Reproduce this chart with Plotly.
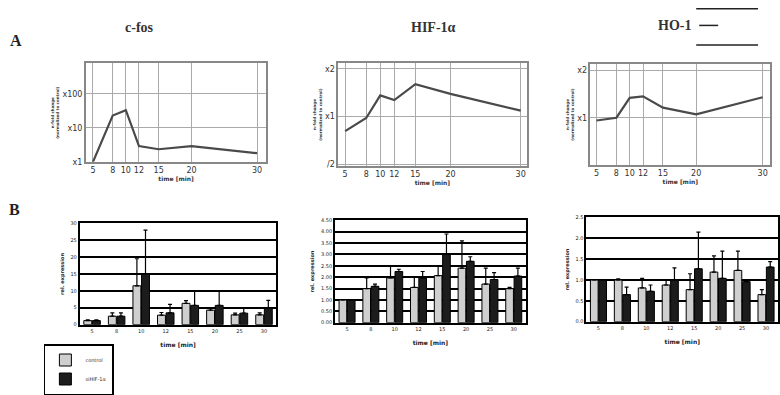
import plotly.graph_objects as go

W, H = 780, 395

# ---------------- data ----------------
line_time = [5, 8, 10, 12, 15, 20, 30]
cfos_fold = [1.0, 23, 33, 2.9, 2.35, 2.9, 1.8]
hif_fold = [0.81, 0.98, 1.36, 1.27, 1.6, 1.39, 1.09]
ho_fold = [0.96, 1.0, 1.34, 1.37, 1.16, 1.05, 1.35]

bar_cats = ["5", "8", "10", "12", "15", "20", "25", "30"]
series_names = ["control", "siHIF-1\u03b1"]

cfos_light = [1.2, 2.5, 11.5, 2.8, 6.3, 4.3, 2.9, 2.9]
cfos_light_err = [0.2, 1.0, 8.0, 0.8, 0.8, 0.5, 0.5, 0.6]
cfos_dark = [1.2, 2.5, 15.0, 3.5, 5.7, 5.7, 3.4, 4.9]
cfos_dark_err = [0.2, 1.0, 13.0, 2.5, 4.3, 4.3, 1.5, 2.3]

hif_light = [1.0, 1.5, 1.97, 1.55, 2.07, 2.4, 1.7, 1.5]
hif_light_err = [0.0, 0.47, 0.5, 0.45, 0.43, 1.2, 0.7, 0.05]
hif_dark = [1.0, 1.6, 2.25, 1.97, 3.0, 2.7, 1.9, 2.05]
hif_dark_err = [0.0, 0.1, 0.1, 0.28, 0.9, 0.2, 0.3, 0.35]

ho_light = [1.0, 1.0, 0.81, 0.88, 0.77, 1.19, 1.23, 0.65]
ho_light_err = [0.0, 0.03, 0.23, 0.12, 0.38, 0.39, 0.46, 0.12]
ho_dark = [1.0, 0.65, 0.73, 1.0, 1.27, 1.04, 0.96, 1.31]
ho_dark_err = [0.0, 0.18, 0.15, 0.29, 0.88, 0.65, 0.0, 0.13]

line_xticks = [5, 8, 10, 12, 15, 20, 30]
cfos_yticks = [1, 10, 100]
cfos_ytext = ["x1", "x10", "x100"]
hifho_yticks = [0.5, 1, 2]
hifho_ytext = ["/2", "x1", "x2"]

cfos_bar_ticks = [0, 5, 10, 15, 20, 25, 30]
hif_bar_ticks = [0, 0.5, 1, 1.5, 2, 2.5, 3, 3.5, 4, 4.5]
hif_bar_text = ["0.00", "0.50", "1.00", "1.50", "2.00", "2.50", "3.00", "3.50", "4.00", "4.50"]
ho_bar_ticks = [0, 0.5, 1, 1.5, 2, 2.5]
ho_bar_text = ["0.0", "0.5", "1.0", "1.5", "2.0", "2.5"]

# ---------------- helpers ----------------
def px(x):
    return x / W

def py(y):
    return 1 - y / H

fig = go.Figure()

LINE_COL = "#4a4a4a"
LIGHT = "#cfcfcf"
DARK = "#1c1c1c"

def add_line(axn, y):
    fig.add_trace(go.Scatter(x=line_time, y=y, mode="lines",
                             line=dict(color=LINE_COL, width=2.2),
                             xaxis="x" + axn, yaxis="y" + axn, showlegend=False))

add_line("", cfos_fold)
add_line("2", hif_fold)
add_line("3", ho_fold)

def add_bars(axn, light, lerr, dark, derr, legend):
    fig.add_trace(go.Bar(x=bar_cats, y=light, name=series_names[0],
                         marker=dict(color=LIGHT, line=dict(color="black", width=1)),
                         error_y=dict(type="data", array=lerr, arrayminus=[0]*len(lerr),
                                      symmetric=False, color="black", thickness=1.2, width=2),
                         xaxis="x" + axn, yaxis="y" + axn, showlegend=legend))
    fig.add_trace(go.Bar(x=bar_cats, y=dark, name=series_names[1],
                         marker=dict(color=DARK, line=dict(color="black", width=1)),
                         error_y=dict(type="data", array=derr, arrayminus=[0]*len(derr),
                                      symmetric=False, color="black", thickness=1.2, width=2),
                         xaxis="x" + axn, yaxis="y" + axn, showlegend=legend))

add_bars("4", cfos_light, cfos_light_err, cfos_dark, cfos_dark_err, True)
add_bars("5", hif_light, hif_light_err, hif_dark, hif_dark_err, False)
add_bars("6", ho_light, ho_light_err, ho_dark, ho_dark_err, False)

tickfont_top = dict(family="DejaVu Sans", size=8, color="#333333")
tinyfont = dict(family="DejaVu Sans", size=5, color="#222222")

def line_x(dom, rng, anchor):
    return dict(domain=dom, range=rng, tickvals=line_xticks, showgrid=True,
                gridcolor="#aaaaaa", gridwidth=1, zeroline=False,
                showline=True, linecolor="#888888", linewidth=1.5, mirror=True,
                ticks="", tickfont=tickfont_top, tickangle=0, anchor=anchor,
                title=dict(text="<b>time [min]</b>", font=dict(family="DejaVu Sans", size=6, color="#333"),
                           standoff=2))

def line_y(dom, rng, vals, text, anchor):
    return dict(domain=dom, type="log", range=rng, tickvals=vals, ticktext=text,
                showgrid=True, gridcolor="#aaaaaa", gridwidth=1, zeroline=False,
                showline=True, linecolor="#888888", linewidth=1.5, mirror=True,
                ticks="", tickfont=dict(family="DejaVu Sans", size=8, color="#333"), anchor=anchor,
                title=dict(text="<b>n-fold change<br>(normalized to control)</b>",
                           font=dict(family="DejaVu Sans", size=4, color="#333"), standoff=3))

def bar_x(dom, anchor):
    return dict(domain=dom, type="category", showgrid=False, zeroline=False,
                showline=True, linecolor="black", linewidth=2, mirror=True,
                ticks="", tickfont=tinyfont, tickangle=0, anchor=anchor,
                title=dict(text="<b>time [min]</b>", font=dict(family="DejaVu Sans", size=6, color="#222"),
                           standoff=10))

def bar_y(dom, rng, vals, text, anchor):
    return dict(domain=dom, range=rng, tickvals=vals, ticktext=text,
                showgrid=True, gridcolor="black", gridwidth=1.8, zeroline=False,
                showline=True, linecolor="black", linewidth=2, mirror=True,
                ticks="", tickfont=tinyfont, anchor=anchor,
                title=dict(text="<b>rel. expression</b>",
                           font=dict(family="DejaVu Sans", size=5, color="#222"), standoff=6))

fig.update_layout(
    width=W, height=H, margin=dict(l=0, r=0, t=0, b=0),
    paper_bgcolor="white", plot_bgcolor="white",
    barmode="group", bargap=0.3, bargroupgap=0.08,
    xaxis=line_x([px(86), px(267)], [3.9, 31.4], "y"),
    yaxis=line_y([py(163), py(62)], [0, 2.89], cfos_yticks, cfos_ytext, "x"),
    xaxis2=line_x([px(339), px(528)], [4.0, 30.85], "y2"),
    yaxis2=line_y([py(167), py(62)], [-0.31, 0.335], hifho_yticks, hifho_ytext, "x2"),
    xaxis3=line_x([px(592), px(772)], [4.1, 31.1], "y3"),
    yaxis3=line_y([py(166), py(63)], [-0.30, 0.34], hifho_yticks, hifho_ytext, "x3"),
    xaxis4=bar_x([px(80), px(277)], "y4"),
    yaxis4=bar_y([py(330), py(226)], [0, 30], cfos_bar_ticks, [str(v) for v in cfos_bar_ticks], "x4"),
    xaxis5=bar_x([px(336), px(527)], "y5"),
    yaxis5=bar_y([py(328), py(223)], [0, 4.5], hif_bar_ticks, hif_bar_text, "x5"),
    xaxis6=bar_x([px(588), px(780)], "y6"),
    yaxis6=bar_y([py(327), py(220)], [0, 2.5], ho_bar_ticks, ho_bar_text, "x6"),
    legend=dict(x=px(44), y=py(350), xanchor="left", yanchor="top",
                bordercolor="black", borderwidth=1.5, bgcolor="white",
                font=dict(family="DejaVu Sans", size=5, color="#333"),
                itemwidth=30, tracegroupgap=0),
    showlegend=True,
)

serif = "Liberation Serif"
annots = [
    dict(text="<b>c-fos</b>", x=px(140), y=py(25), font=dict(family=serif, size=14, color="#333")),
    dict(text="<b>HIF-1\u03b1</b>", x=px(435), y=py(25), font=dict(family=serif, size=14, color="#333")),
    dict(text="<b>HO-1</b>", x=px(676), y=py(23), font=dict(family=serif, size=14, color="#333")),
    dict(text="<b>A</b>", x=px(16), y=py(38), font=dict(family=serif, size=16, color="#222")),
    dict(text="<b>B</b>", x=px(15), y=py(212), font=dict(family=serif, size=16, color="#222")),
]
for a in annots:
    fig.add_annotation(xref="paper", yref="paper", showarrow=False,
                       xanchor="center", yanchor="middle", **a)

for (x0, x1, y0) in [(698, 760, 6), (701, 720, 23), (698, 760, 43)]:
    fig.add_shape(type="line", xref="paper", yref="paper",
                  x0=px(x0), x1=px(x1), y0=py(y0), y1=py(y0),
                  line=dict(color="#222", width=1.5))

fig.write_html("out.html", config={"displayModeBar": False},
               post_script="document.body.style.margin='0';document.body.style.overflow='hidden';")
